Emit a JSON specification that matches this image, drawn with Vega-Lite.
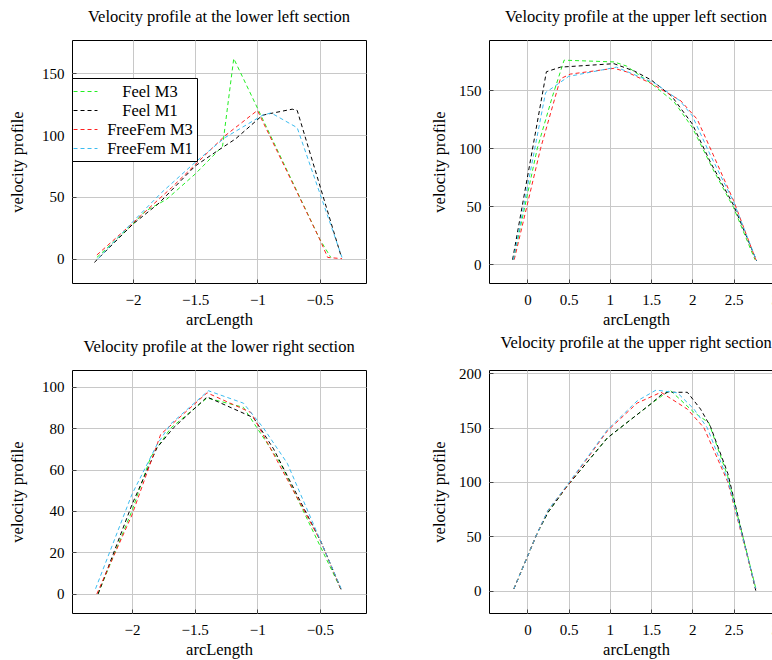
{
"$schema": "https://vega.github.io/schema/vega-lite/v6.json",
"autosize": {"type": "none"},
"padding": {"left": 72, "top": 40, "right": 700, "bottom": 620},
"background": "white",
"config": {
  "font": "Liberation Serif",
  "view": {"stroke": "black", "strokeWidth": 1},
  "axis": {"grid": true, "gridColor": "#c8c8c8", "gridWidth": 1, "domain": false, "ticks": true, "tickSize": -4, "tickColor": "#444444", "format": "~f",
           "labelFont": "Liberation Serif", "labelFontSize": 15, "labelColor": "black",
           "titleFont": "Liberation Serif", "titleFontSize": 16.5, "titleFontWeight": "normal", "titleColor": "black"},
  "axisX": {"labelBaseline": "alphabetic", "labelPadding": 25, "titleY": 41, "titleBaseline": "alphabetic"},
  "axisY": {"labelPadding": 12, "titleBaseline": "bottom"},
  "title": {"font": "Liberation Serif", "fontSize": 16.5, "fontWeight": "normal", "color": "black", "anchor": "middle", "frame": "group", "baseline": "alphabetic", "offset": 15}
},
"data": {"values": [
{"p":"LL","series":"Feel M3","s":-2.29,"v":1},{"p":"LL","series":"Feel M3","s":-2.0,"v":28},{"p":"LL","series":"Feel M3","s":-1.9,"v":38.5},{"p":"LL","series":"Feel M3","s":-1.73,"v":48},{"p":"LL","series":"Feel M3","s":-1.5,"v":68.5},{"p":"LL","series":"Feel M3","s":-1.28,"v":91},{"p":"LL","series":"Feel M3","s":-1.19,"v":162},{"p":"LL","series":"Feel M3","s":-1.0,"v":122},{"p":"LL","series":"Feel M3","s":-0.5,"v":16},{"p":"LL","series":"Feel M3","s":-0.41,"v":1},
{"p":"LL","series":"Feel M1","s":-2.31,"v":-3},{"p":"LL","series":"Feel M1","s":-2.0,"v":28},{"p":"LL","series":"Feel M1","s":-1.79,"v":45},{"p":"LL","series":"Feel M1","s":-1.5,"v":75},{"p":"LL","series":"Feel M1","s":-1.34,"v":86},{"p":"LL","series":"Feel M1","s":-1.175,"v":97},{"p":"LL","series":"Feel M1","s":-0.96,"v":116},{"p":"LL","series":"Feel M1","s":-0.92,"v":117},{"p":"LL","series":"Feel M1","s":-0.72,"v":121},{"p":"LL","series":"Feel M1","s":-0.68,"v":120},{"p":"LL","series":"Feel M1","s":-0.33,"v":3},
{"p":"LL","series":"FreeFem M3","s":-2.29,"v":3},{"p":"LL","series":"FreeFem M3","s":-2.0,"v":29},{"p":"LL","series":"FreeFem M3","s":-1.69,"v":57.5},{"p":"LL","series":"FreeFem M3","s":-1.26,"v":99.5},{"p":"LL","series":"FreeFem M3","s":-1.0,"v":120},{"p":"LL","series":"FreeFem M3","s":-0.5,"v":16},{"p":"LL","series":"FreeFem M3","s":-0.435,"v":1},{"p":"LL","series":"FreeFem M3","s":-0.32,"v":0},
{"p":"LL","series":"FreeFem M1","s":-2.28,"v":0},{"p":"LL","series":"FreeFem M1","s":-2.0,"v":30},{"p":"LL","series":"FreeFem M1","s":-1.77,"v":53.5},{"p":"LL","series":"FreeFem M1","s":-1.5,"v":78},{"p":"LL","series":"FreeFem M1","s":-1.26,"v":98},{"p":"LL","series":"FreeFem M1","s":-0.96,"v":116},{"p":"LL","series":"FreeFem M1","s":-0.89,"v":118},{"p":"LL","series":"FreeFem M1","s":-0.68,"v":106},{"p":"LL","series":"FreeFem M1","s":-0.32,"v":1},

{"p":"UL","series":"Feel M3","s":-0.17,"v":4},{"p":"UL","series":"Feel M3","s":0.12,"v":100},{"p":"UL","series":"Feel M3","s":0.30,"v":144},{"p":"UL","series":"Feel M3","s":0.445,"v":176},{"p":"UL","series":"Feel M3","s":1.05,"v":174.5},{"p":"UL","series":"Feel M3","s":1.2,"v":171},{"p":"UL","series":"Feel M3","s":1.5,"v":156},{"p":"UL","series":"Feel M3","s":1.78,"v":140},{"p":"UL","series":"Feel M3","s":2.0,"v":118},{"p":"UL","series":"Feel M3","s":2.25,"v":82},{"p":"UL","series":"Feel M3","s":2.5,"v":49},{"p":"UL","series":"Feel M3","s":2.76,"v":4},
{"p":"UL","series":"Feel M1","s":-0.18,"v":4},{"p":"UL","series":"Feel M1","s":0.23,"v":166},{"p":"UL","series":"Feel M1","s":0.40,"v":170},{"p":"UL","series":"Feel M1","s":1.05,"v":173},{"p":"UL","series":"Feel M1","s":1.3,"v":166.5},{"p":"UL","series":"Feel M1","s":1.5,"v":159},{"p":"UL","series":"Feel M1","s":1.75,"v":145},{"p":"UL","series":"Feel M1","s":2.0,"v":121},{"p":"UL","series":"Feel M1","s":2.22,"v":88},{"p":"UL","series":"Feel M1","s":2.5,"v":51},{"p":"UL","series":"Feel M1","s":2.78,"v":3},
{"p":"UL","series":"FreeFem M3","s":-0.16,"v":4},{"p":"UL","series":"FreeFem M3","s":0.16,"v":100},{"p":"UL","series":"FreeFem M3","s":0.40,"v":160},{"p":"UL","series":"FreeFem M3","s":0.52,"v":164},{"p":"UL","series":"FreeFem M3","s":1.05,"v":169},{"p":"UL","series":"FreeFem M3","s":1.2,"v":166},{"p":"UL","series":"FreeFem M3","s":1.5,"v":156},{"p":"UL","series":"FreeFem M3","s":1.86,"v":141},{"p":"UL","series":"FreeFem M3","s":2.06,"v":125},{"p":"UL","series":"FreeFem M3","s":2.25,"v":95},{"p":"UL","series":"FreeFem M3","s":2.5,"v":55},{"p":"UL","series":"FreeFem M3","s":2.77,"v":4},
{"p":"UL","series":"FreeFem M1","s":-0.17,"v":4},{"p":"UL","series":"FreeFem M1","s":0.22,"v":148},{"p":"UL","series":"FreeFem M1","s":0.30,"v":152},{"p":"UL","series":"FreeFem M1","s":0.5,"v":162},{"p":"UL","series":"FreeFem M1","s":1.08,"v":170},{"p":"UL","series":"FreeFem M1","s":1.55,"v":156},{"p":"UL","series":"FreeFem M1","s":1.85,"v":141},{"p":"UL","series":"FreeFem M1","s":2.0,"v":128},{"p":"UL","series":"FreeFem M1","s":2.22,"v":94},{"p":"UL","series":"FreeFem M1","s":2.5,"v":54},{"p":"UL","series":"FreeFem M1","s":2.78,"v":3},

{"p":"LR","series":"Feel M3","s":-2.27,"v":0},{"p":"LR","series":"Feel M3","s":-2.0,"v":40},{"p":"LR","series":"Feel M3","s":-1.85,"v":66},{"p":"LR","series":"Feel M3","s":-1.69,"v":80},{"p":"LR","series":"Feel M3","s":-1.40,"v":94.5},{"p":"LR","series":"Feel M3","s":-1.11,"v":90},{"p":"LR","series":"Feel M3","s":-0.81,"v":62.5},{"p":"LR","series":"Feel M3","s":-0.545,"v":29},{"p":"LR","series":"Feel M3","s":-0.33,"v":2},
{"p":"LR","series":"Feel M1","s":-2.27,"v":0},{"p":"LR","series":"Feel M1","s":-2.0,"v":43},{"p":"LR","series":"Feel M1","s":-1.8,"v":70.5},{"p":"LR","series":"Feel M1","s":-1.67,"v":80},{"p":"LR","series":"Feel M1","s":-1.40,"v":95},{"p":"LR","series":"Feel M1","s":-1.03,"v":85},{"p":"LR","series":"Feel M1","s":-0.87,"v":70},{"p":"LR","series":"Feel M1","s":-0.49,"v":25},{"p":"LR","series":"Feel M1","s":-0.33,"v":2},
{"p":"LR","series":"FreeFem M3","s":-2.28,"v":0},{"p":"LR","series":"FreeFem M3","s":-2.0,"v":38},{"p":"LR","series":"FreeFem M3","s":-1.77,"v":77},{"p":"LR","series":"FreeFem M3","s":-1.40,"v":97},{"p":"LR","series":"FreeFem M3","s":-1.05,"v":87.5},{"p":"LR","series":"FreeFem M3","s":-0.87,"v":67.5},{"p":"LR","series":"FreeFem M3","s":-0.49,"v":25},{"p":"LR","series":"FreeFem M3","s":-0.33,"v":2},
{"p":"LR","series":"FreeFem M1","s":-2.29,"v":2.5},{"p":"LR","series":"FreeFem M1","s":-2.0,"v":48},{"p":"LR","series":"FreeFem M1","s":-1.8,"v":72},{"p":"LR","series":"FreeFem M1","s":-1.69,"v":82},{"p":"LR","series":"FreeFem M1","s":-1.39,"v":98},{"p":"LR","series":"FreeFem M1","s":-1.11,"v":92},{"p":"LR","series":"FreeFem M1","s":-0.95,"v":80},{"p":"LR","series":"FreeFem M1","s":-0.76,"v":63},{"p":"LR","series":"FreeFem M1","s":-0.49,"v":25},{"p":"LR","series":"FreeFem M1","s":-0.33,"v":2.5},

{"p":"UR","series":"Feel M3","s":-0.165,"v":1.5},{"p":"UR","series":"Feel M3","s":0.12,"v":53},{"p":"UR","series":"Feel M3","s":0.25,"v":72},{"p":"UR","series":"Feel M3","s":0.48,"v":96},{"p":"UR","series":"Feel M3","s":0.97,"v":140.5},{"p":"UR","series":"Feel M3","s":1.5,"v":172},{"p":"UR","series":"Feel M3","s":1.73,"v":184.5},{"p":"UR","series":"Feel M3","s":2.02,"v":164},{"p":"UR","series":"Feel M3","s":2.2,"v":154.5},{"p":"UR","series":"Feel M3","s":2.43,"v":105},{"p":"UR","series":"Feel M3","s":2.77,"v":2},
{"p":"UR","series":"Feel M1","s":-0.165,"v":1.5},{"p":"UR","series":"Feel M1","s":0.12,"v":53},{"p":"UR","series":"Feel M1","s":0.25,"v":72},{"p":"UR","series":"Feel M1","s":0.48,"v":96},{"p":"UR","series":"Feel M1","s":0.97,"v":140.5},{"p":"UR","series":"Feel M1","s":1.5,"v":172},{"p":"UR","series":"Feel M1","s":1.62,"v":180},{"p":"UR","series":"Feel M1","s":1.70,"v":182.5},{"p":"UR","series":"Feel M1","s":1.94,"v":182.5},{"p":"UR","series":"Feel M1","s":2.10,"v":167},{"p":"UR","series":"Feel M1","s":2.22,"v":151},{"p":"UR","series":"Feel M1","s":2.43,"v":108},{"p":"UR","series":"Feel M1","s":2.77,"v":0},
{"p":"UR","series":"FreeFem M3","s":-0.165,"v":1.5},{"p":"UR","series":"FreeFem M3","s":0.12,"v":53},{"p":"UR","series":"FreeFem M3","s":0.25,"v":74},{"p":"UR","series":"FreeFem M3","s":0.50,"v":98},{"p":"UR","series":"FreeFem M3","s":0.97,"v":147},{"p":"UR","series":"FreeFem M3","s":1.33,"v":172.5},{"p":"UR","series":"FreeFem M3","s":1.62,"v":182.5},{"p":"UR","series":"FreeFem M3","s":1.94,"v":167},{"p":"UR","series":"FreeFem M3","s":2.14,"v":150},{"p":"UR","series":"FreeFem M3","s":2.43,"v":100},{"p":"UR","series":"FreeFem M3","s":2.77,"v":2},
{"p":"UR","series":"FreeFem M1","s":-0.165,"v":1.5},{"p":"UR","series":"FreeFem M1","s":0.12,"v":53},{"p":"UR","series":"FreeFem M1","s":0.25,"v":74},{"p":"UR","series":"FreeFem M1","s":0.50,"v":99},{"p":"UR","series":"FreeFem M1","s":0.97,"v":148},{"p":"UR","series":"FreeFem M1","s":1.33,"v":174.5},{"p":"UR","series":"FreeFem M1","s":1.56,"v":184.5},{"p":"UR","series":"FreeFem M1","s":1.82,"v":182},{"p":"UR","series":"FreeFem M1","s":2.02,"v":167},{"p":"UR","series":"FreeFem M1","s":2.18,"v":150},{"p":"UR","series":"FreeFem M1","s":2.43,"v":102},{"p":"UR","series":"FreeFem M1","s":2.77,"v":2}
]},
"columns": 2,
"spacing": {"row": 87, "column": 123},
"bounds": "flush",
"resolve": {"scale": {"x": "independent", "y": "independent"}, "axis": {"x": "independent", "y": "independent"}, "legend": {"color": "independent"}},
"concat": [
{
  "title": {"text": "Velocity profile at the lower left section"},
  "width": 294, "height": 243,
  "transform": [{"filter": "datum.p === 'LL'"}],
  "mark": {"type": "line", "strokeDash": [4, 3], "strokeWidth": 1},
  "encoding": {
    "x": {"field": "s", "type": "quantitative", "scale": {"domain": [-2.49, -0.127], "nice": false, "zero": false}, "axis": {"title": "arcLength", "values": [-2, -1.5, -1, -0.5]}},
    "y": {"field": "v", "type": "quantitative", "scale": {"domain": [-19.7, 177], "nice": false, "zero": false}, "axis": {"title": "velocity profile", "values": [0, 50, 100, 150], "titleX": -47}},
    "color": {"field": "series", "type": "nominal",
      "scale": {"domain": ["Feel M3", "Feel M1", "FreeFem M3", "FreeFem M1"], "range": ["#22ee22", "#000000", "#ff2020", "#3cbcf0"]},
      "legend": {"orient": "none", "legendX": 0, "legendY": 38, "title": null, "strokeColor": "black", "fillColor": "white", "padding": 4,
        "symbolType": "M-1.33,0H1.33", "symbolSize": 324, "symbolStrokeWidth": 1, "symbolDash": [4, 3],
        "labelFont": "Liberation Serif", "labelFontSize": 16.5, "labelColor": "black", "labelAlign": "center", "labelOffset": 55, "rowPadding": 1}}
  }
},
{
  "title": {"text": "Velocity profile at the upper left section"},
  "width": 294, "height": 243,
  "transform": [{"filter": "datum.p === 'UL'"}],
  "mark": {"type": "line", "strokeDash": [4, 3], "strokeWidth": 1},
  "encoding": {
    "x": {"field": "s", "type": "quantitative", "scale": {"domain": [-0.466, 3.1], "nice": false, "zero": false}, "axis": {"title": "arcLength", "values": [0, 0.5, 1, 1.5, 2, 2.5, 3]}},
    "y": {"field": "v", "type": "quantitative", "scale": {"domain": [-16.1, 193.4], "nice": false, "zero": false}, "axis": {"title": "velocity profile", "values": [0, 50, 100, 150], "titleX": -42}},
    "color": {"field": "series", "type": "nominal",
      "scale": {"domain": ["Feel M3", "Feel M1", "FreeFem M3", "FreeFem M1"], "range": ["#22ee22", "#000000", "#ff2020", "#3cbcf0"]},
      "legend": null}
  }
},
{
  "title": {"text": "Velocity profile at the lower right section"},
  "width": 294, "height": 243,
  "transform": [{"filter": "datum.p === 'LR'"}],
  "mark": {"type": "line", "strokeDash": [4, 3], "strokeWidth": 1},
  "encoding": {
    "x": {"field": "s", "type": "quantitative", "scale": {"domain": [-2.478, -0.132], "nice": false, "zero": false}, "axis": {"title": "arcLength", "values": [-2, -1.5, -1, -0.5]}},
    "y": {"field": "v", "type": "quantitative", "scale": {"domain": [-9.2, 108], "nice": false, "zero": false}, "axis": {"title": "velocity profile", "values": [0, 20, 40, 60, 80, 100], "titleX": -47}},
    "color": {"field": "series", "type": "nominal",
      "scale": {"domain": ["Feel M3", "Feel M1", "FreeFem M3", "FreeFem M1"], "range": ["#22ee22", "#000000", "#ff2020", "#3cbcf0"]},
      "legend": null}
  }
},
{
  "title": {"text": "Velocity profile at the upper right section"},
  "width": 294, "height": 243,
  "transform": [{"filter": "datum.p === 'UR'"}],
  "mark": {"type": "line", "strokeDash": [4, 3], "strokeWidth": 1},
  "encoding": {
    "x": {"field": "s", "type": "quantitative", "scale": {"domain": [-0.466, 3.1], "nice": false, "zero": false}, "axis": {"title": "arcLength", "values": [0, 0.5, 1, 1.5, 2, 2.5, 3]}},
    "y": {"field": "v", "type": "quantitative", "scale": {"domain": [-20.6, 203], "nice": false, "zero": false}, "axis": {"title": "velocity profile", "values": [0, 50, 100, 150, 200], "titleX": -42}},
    "color": {"field": "series", "type": "nominal",
      "scale": {"domain": ["Feel M3", "Feel M1", "FreeFem M3", "FreeFem M1"], "range": ["#22ee22", "#000000", "#ff2020", "#3cbcf0"]},
      "legend": null}
  }
}
]
}
